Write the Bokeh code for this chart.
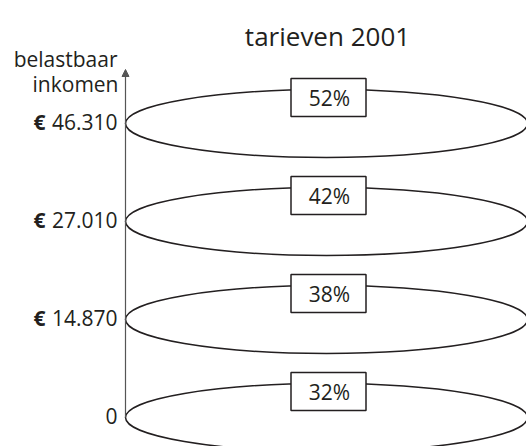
from bokeh.plotting import figure
from bokeh.models import Range1d, Arrow, NormalHead, ColumnDataSource
from bokeh.core.properties import value
from bokeh.embed import file_html
from bokeh.resources import INLINE

# data
levels = ["0", "14.870", "27.010", "46.310"]
rates = [32, 38, 42, 52]
title_text = "tarieven 2001"
axis_title = ["belastbaar", "inkomen"]

INK = "#231f20"
FONT = value("Open Sans")

W, H = 526, 446
STEP = 98.0          # pixels between levels
BASE = 417.0         # pixel y of level 0

def sy(py):
    """pixel y (from top of figure) -> data y (level index)"""
    return (BASE - py) / STEP

p = figure(width=W, height=H, output_backend="svg", toolbar_location=None,
           x_range=Range1d(0, W), y_range=Range1d(sy(H), sy(0)),
           min_border=0, x_axis_location=None, y_axis_location=None,
           outline_line_color=None, background_fill_color="white")
p.grid.visible = False

idx = list(range(len(levels)))
src = ColumnDataSource(dict(
    y=idx,
    box_y=[i + 26 / STEP for i in idx],
    rate=[f"{r}%" for r in rates],
    lab=[("€" if l != "0" else "") for l in levels],
    num=levels,
))

# vertical axis with arrow
p.add_layout(Arrow(x_start=125, y_start=0, x_end=125, y_end=sy(69),
                   line_color="#555555", line_width=1.2,
                   end=NormalHead(size=7, fill_color="#555555", line_color="#555555")))

# ellipses (discs)
p.ellipse(x=326, y="y", width=402, height=68 / STEP, source=src,
          fill_color=None, line_color=INK, line_width=1.5)

# rate boxes
p.rect(x=328, y="box_y", width=75, height=38 / STEP, source=src,
       fill_color="white", line_color=INK, line_width=1.5)
p.text(x=329, y="box_y", text="rate", source=src, text_font=FONT,
       text_font_size="21px", text_color=INK, text_align="center",
       text_baseline="middle")

# tick labels
p.text(x=117, y="y", text="num", source=src, text_font=FONT,
       text_font_size="21px", text_color=INK, text_align="right",
       text_baseline="middle", y_offset=-2)
p.text(x=39, y="y", text="lab", source=src, text_font=FONT,
       text_font_size="21px", text_font_style="bold", text_color=INK,
       text_align="center", text_baseline="middle", y_offset=-2)

# axis title
p.text(x=[117, 118], y=[sy(58), sy(83)], text=axis_title, text_font=FONT,
       text_font_size="21px", text_color=INK, text_align="right",
       text_baseline="alphabetic")

# chart title
p.text(x=[327], y=[sy(35)], text=[title_text], text_font=FONT,
       text_font_size="26px", text_color=INK, text_align="center",
       text_baseline="alphabetic")

open("out.html", "w").write(file_html(p, INLINE))
